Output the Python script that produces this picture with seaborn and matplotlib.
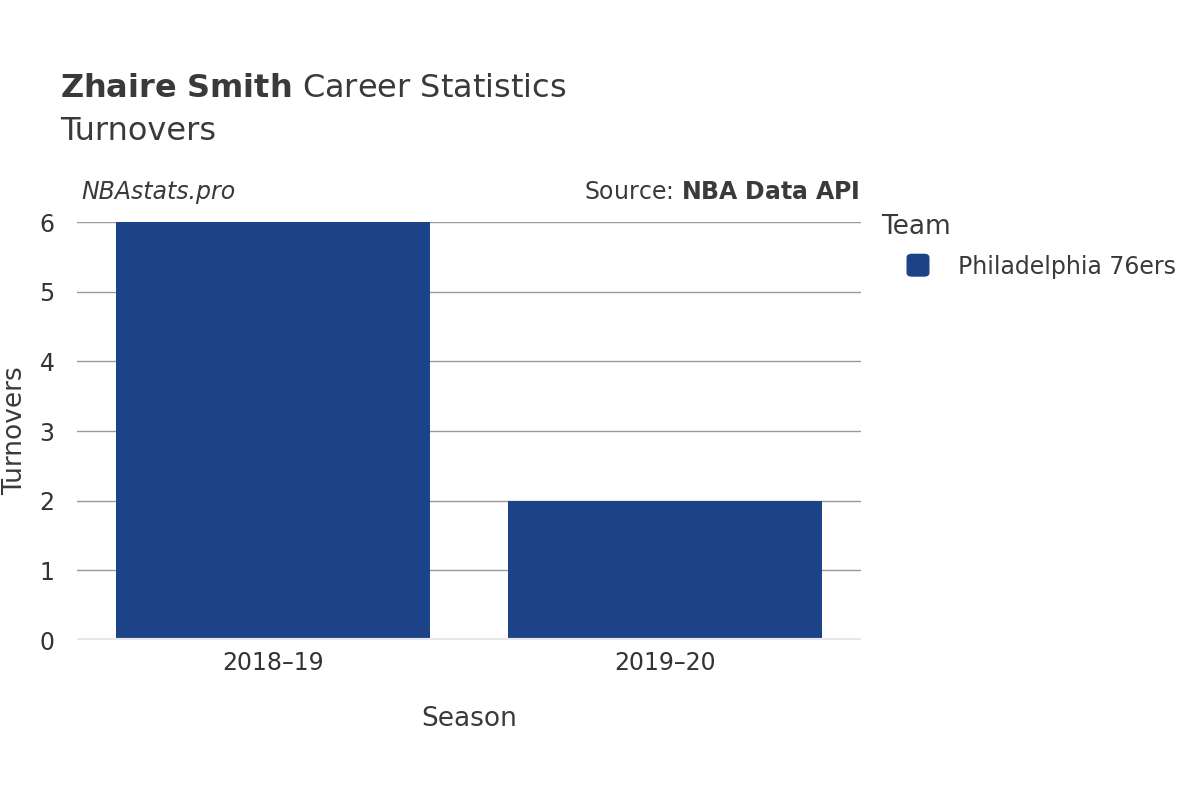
import matplotlib
matplotlib.use("Agg")
import matplotlib.pyplot as plt
import seaborn as sns
import pandas as pd

seasons = ["2018–19", "2019–20"]
turnovers = [6, 2]
teams = ["Philadelphia 76ers", "Philadelphia 76ers"]
color = "#1c4388"

df = pd.DataFrame({"Season": seasons, "Turnovers": turnovers, "Team": teams})

plt.rcParams["font.family"] = "DejaVu Sans"
fig = plt.figure(figsize=(12, 8), dpi=100)
ax = fig.add_axes([0.064, 0.2, 0.6535, 0.5225])
sns.barplot(data=df, x="Season", y="Turnovers", hue="Team", palette=[color],
            width=0.8, saturation=1, ax=ax, legend=False, zorder=3)
ax.set_xlim(-0.5, 1.5)
ax.set_ylim(0, 6)
ax.set_yticks(range(7))
ax.grid(axis="y", color="#999999", linewidth=1, zorder=0)
ax.axhline(0, color="#e8e8ec", linewidth=3, zorder=4)
for s in ax.spines.values():
    s.set_visible(False)
ax.tick_params(axis="both", length=0, labelsize=17, colors="#333333")
ax.tick_params(axis="x", pad=8)
ax.tick_params(axis="y", pad=16)
ax.set_xlabel("Season", fontsize=19, color="#3a3a3a", labelpad=22)
ax.set_ylabel("Turnovers", fontsize=19, color="#3a3a3a", labelpad=8)

fig.text(0.05, 0.889, r"$\bf{Zhaire\ Smith}$ Career Statistics", fontsize=23, color="#3a3a3a", va="center")
fig.text(0.05, 0.835, "Turnovers", fontsize=23, color="#3a3a3a", va="center")
fig.text(0.068, 0.76, "NBAstats.pro", fontsize=17, style="italic", color="#3a3a3a", va="center")
fig.text(0.716, 0.76, r"Source: $\bf{NBA\ Data\ API}$", fontsize=17, color="#3a3a3a", va="center", ha="right")
fig.text(0.734, 0.716, "Team", fontsize=19, color="#3a3a3a", va="center")
fig.patches.append(matplotlib.patches.FancyBboxPatch((0.756, 0.655), 0.018, 0.027,
    boxstyle="round,pad=0,rounding_size=0.004", transform=fig.transFigure, color=color))
fig.text(0.798, 0.666, "Philadelphia 76ers", fontsize=17, color="#3a3a3a", va="center")

fig.savefig("out.png", dpi=100)
